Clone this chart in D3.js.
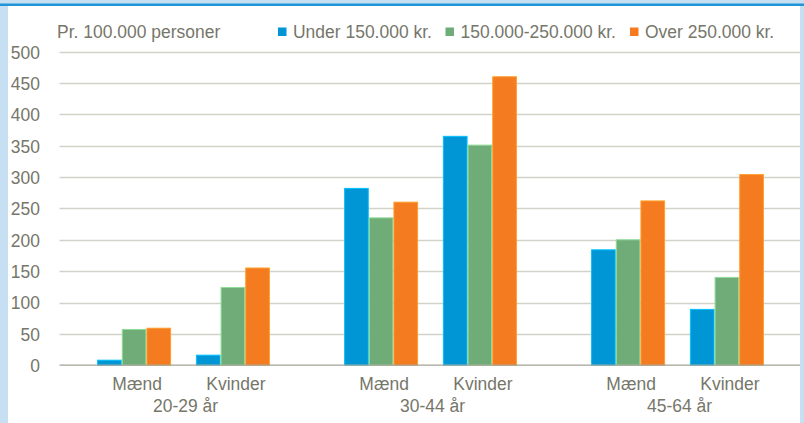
<!DOCTYPE html>
<html>
<head>
<meta charset="utf-8">
<script src="https://cdn.jsdelivr.net/npm/d3@7"></script>
<style>
  html, body { margin: 0; padding: 0; background: #c6dff2; }
  svg { display: block; }
  text { font-family: "Liberation Sans", Arial, sans-serif; fill: #76766a; font-size: 19px; }
</style>
</head>
<body>
<svg id="chart"></svg>
<script>
const ageGroups = ["20-29 år", "30-44 år", "45-64 år"];
const sexes = ["Mænd", "Kvinder"];
const seriesNames = ["Under 150.000 kr.", "150.000-250.000 kr.", "Over 250.000 kr."];
const seriesColors = ["#0096d6", "#70ac78", "#f47b20"];
// values per category: Mænd 20-29, Kvinder 20-29, Mænd 30-44, Kvinder 30-44, Mænd 45-64, Kvinder 45-64
const under150 = [8, 16, 282, 365, 184, 89];
const mid150to250 = [57, 124, 235, 351, 200, 140];
const over250 = [59, 155, 260, 460, 262, 304];
const yTicks = [0, 50, 100, 150, 200, 250, 300, 350, 400, 450, 500];
const unitLabel = "Pr. 100.000 personer";

const width = 804, height = 423;
const seriesValues = [under150, mid150to250, over250];
const squeeze = 0.92; // text in the original is slightly condensed

const svg = d3.select("#chart").attr("width", width).attr("height", height);

// place a text at (px, py), condensed horizontally
const at = (px, py) => `translate(${px},${py}) scale(${squeeze},1)`;

// frame
svg.append("rect").attr("x", 0).attr("y", 0).attr("width", width).attr("height", height).attr("fill", "#c6dff2");
svg.append("rect").attr("x", 8).attr("y", 6).attr("width", 792).attr("height", height - 6).attr("fill", "#ffffff");
svg.append("rect").attr("x", 0).attr("y", 3.5).attr("width", width).attr("height", 2.5).attr("fill", "#1f95d8");

// category slots: 2 per age group, with half a slot gap between groups
const cats = [];
ageGroups.forEach((g, gi) => sexes.forEach((s, si) => cats.push({ group: g, sex: s, slot: gi * 2.5 + si })));

const x = d3.scaleLinear().domain([-0.75, 6.75]).range([60, 801]);
const y = d3.scaleLinear().domain([0, 500]).range([365.2, 51.7]);
const inner = d3.scaleBand().domain(seriesNames).range([-37, 37]);

const plotLeft = 59.5, plotRight = 800;

// gridlines
svg.append("g").selectAll("line")
  .data(yTicks.filter(d => d > 0))
  .enter().append("line")
  .attr("x1", plotLeft).attr("x2", plotRight)
  .attr("y1", d => Math.round(y(d)) + 0.5).attr("y2", d => Math.round(y(d)) + 0.5)
  .attr("stroke", "#d3d2c8").attr("stroke-width", 1.3);

// y labels
svg.append("g").selectAll("text")
  .data(yTicks)
  .enter().append("text")
  .attr("transform", d => at(40, y(d)))
  .attr("dy", "0.36em")
  .attr("text-anchor", "end")
  .text(d => d);

// bars
const barData = [];
cats.forEach((c, ci) => seriesNames.forEach((s, si) => barData.push({ cat: c, series: s, si: si, value: seriesValues[si][ci] })));

svg.append("g").selectAll("rect")
  .data(barData)
  .enter().append("rect")
  .attr("x", d => x(d.cat.slot) + inner(d.series) + 0.5)
  .attr("width", inner.bandwidth() - 1)
  .attr("y", d => y(d.value))
  .attr("height", d => y(0) - y(d.value))
  .attr("fill", d => seriesColors[d.si])
  .attr("stroke", d => d3.color(seriesColors[d.si]).brighter(0.7))
  .attr("stroke-width", 1);

// x axis line
svg.append("line")
  .attr("x1", plotLeft).attr("x2", plotRight)
  .attr("y1", 365.2).attr("y2", 365.2)
  .attr("stroke", "#a3a295").attr("stroke-width", 1.3);

// category labels
svg.append("g").selectAll("text")
  .data(cats)
  .enter().append("text")
  .attr("transform", d => at(x(d.slot) + 3, 389.5))
  .attr("text-anchor", "middle")
  .text(d => d.sex);

svg.append("g").selectAll("text")
  .data(ageGroups)
  .enter().append("text")
  .attr("transform", (d, i) => at(x(i * 2.5 + 0.5) + 2, 412))
  .attr("text-anchor", "middle")
  .text(d => d);

// unit label
svg.append("text")
  .attr("transform", at(57, 37.5))
  .text(unitLabel);

// legend
const legendX = [278, 445.5, 630];
const legend = svg.append("g").selectAll("g")
  .data(seriesNames)
  .enter().append("g")
  .attr("transform", (d, i) => `translate(${legendX[i]},0)`);

legend.append("rect")
  .attr("x", 0).attr("y", 27.5)
  .attr("width", 8.5).attr("height", 8.5)
  .attr("fill", (d, i) => seriesColors[i]);

legend.append("text")
  .attr("transform", at(15, 38))
  .text(d => d);
</script>
</body>
</html>
